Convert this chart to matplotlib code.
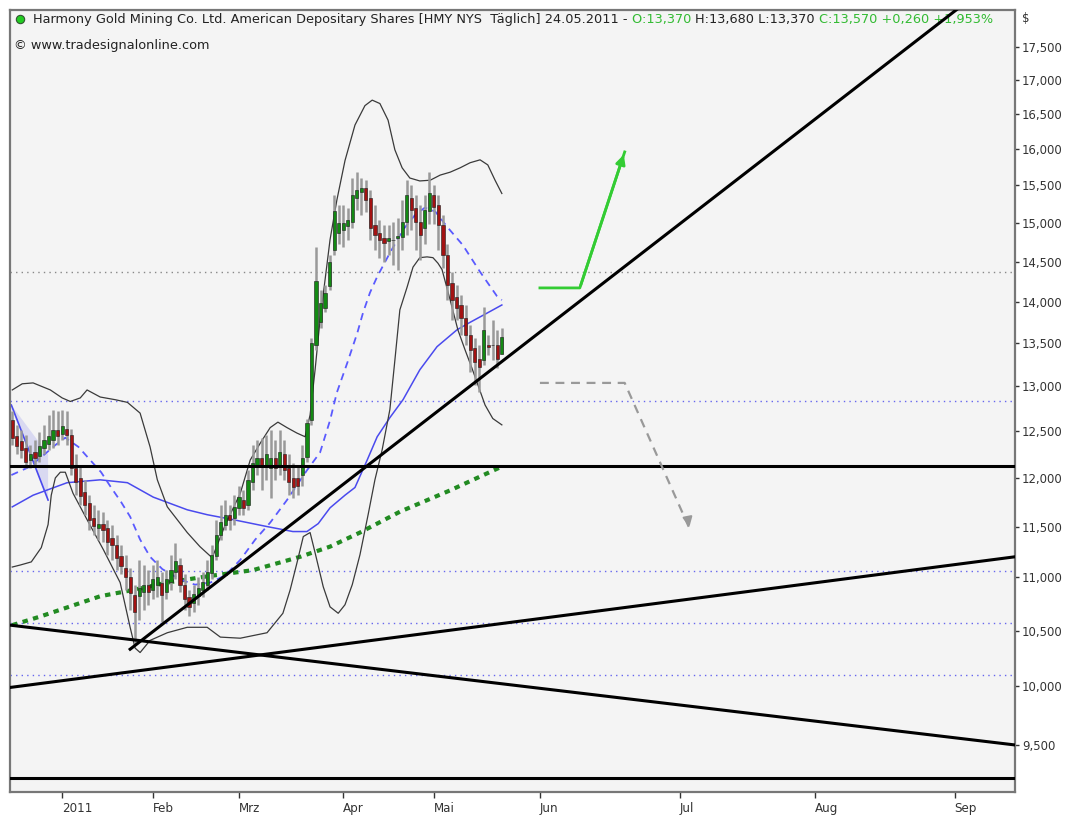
import matplotlib
matplotlib.use('Agg')
import matplotlib.pyplot as plt
from matplotlib.ticker import FixedLocator, NullLocator, FuncFormatter
import numpy as np

# HMY NYS daily bars, 16.12.2010 .. 24.05.2011 (x = trading day index, 11 = 03.01.2011)
opens = [12.62, 12.45, 12.39, 12.32, 12.19, 12.28, 12.23, 12.32, 12.36, 12.41,
         12.51, 12.47, 12.53, 12.46, 12.10, 12.00, 11.85, 11.74, 11.59, 11.49,
         11.53, 11.49, 11.39, 11.32, 11.21, 11.09, 11.00, 10.83, 10.82, 10.86,
         10.93, 10.88, 10.93, 10.95, 10.86, 10.96, 11.05, 11.12, 10.93, 10.81,
         10.76, 10.82, 10.88, 10.93, 11.04, 11.21, 11.42, 11.52, 11.62, 11.59,
         11.69, 11.77, 11.72, 11.96, 12.14, 12.21, 12.12, 12.10, 12.21, 12.14,
         12.25, 12.10, 12.00, 12.00, 12.03, 12.22, 12.62, 13.48, 13.75, 13.92,
         14.19, 14.65, 14.87, 14.91, 14.96, 15.01, 15.33, 15.41, 15.47, 15.33,
         14.97, 14.87, 14.80, 14.76, 14.78, 14.80, 14.82, 15.01, 15.33, 15.20,
         15.01, 14.93, 15.15, 15.37, 15.23, 14.97, 14.59, 14.23, 14.06, 13.96,
         13.80, 13.60, 13.44, 13.32, 13.30, 13.48, 13.48, 13.48, 13.37]
highs = [12.72, 12.57, 12.51, 12.46, 12.35, 12.41, 12.49, 12.57, 12.68, 12.74,
         12.72, 12.74, 12.72, 12.53, 12.25, 12.14, 11.98, 11.82, 11.72, 11.67,
         11.65, 11.57, 11.52, 11.42, 11.32, 11.22, 11.09, 10.93, 11.17, 11.12,
         11.07, 11.12, 11.17, 11.05, 11.07, 11.22, 11.34, 11.19, 11.03, 10.88,
         10.93, 11.00, 11.05, 11.17, 11.32, 11.57, 11.72, 11.77, 11.72, 11.82,
         11.92, 11.87, 12.08, 12.35, 12.41, 12.43, 12.46, 12.51, 12.41, 12.51,
         12.41, 12.25, 12.16, 12.14, 12.35, 12.64, 13.56, 14.68, 14.15, 14.21,
         14.59, 15.37, 15.23, 15.23, 15.20, 15.60, 15.68, 15.60, 15.57, 15.44,
         15.23, 15.04, 14.97, 14.97, 15.01, 15.07, 15.30, 15.57, 15.50, 15.37,
         15.23, 15.37, 15.68, 15.50, 15.37, 15.10, 14.72, 14.37, 14.21, 14.08,
         13.96, 13.72, 13.56, 13.48, 13.94, 13.60, 13.78, 13.66, 13.68]
lows = [12.35, 12.25, 12.21, 12.10, 12.10, 12.14, 12.17, 12.25, 12.30, 12.32,
        12.35, 12.41, 12.35, 12.03, 11.82, 11.72, 11.62, 11.47, 11.42, 11.37,
        11.35, 11.22, 11.17, 11.07, 11.03, 10.88, 10.69, 10.37, 10.60, 10.69,
        10.74, 10.79, 10.81, 10.58, 10.79, 10.88, 10.98, 10.86, 10.69, 10.63,
        10.67, 10.74, 10.81, 10.88, 10.98, 11.17, 11.37, 11.47, 11.47, 11.52,
        11.62, 11.62, 11.67, 11.87, 12.03, 11.87, 11.98, 11.79, 11.98, 12.03,
        11.98, 11.82, 11.79, 11.82, 11.92, 12.17, 12.57, 13.42, 13.68, 13.87,
        14.15, 14.59, 14.72, 14.68, 14.78, 14.93, 15.17, 15.10, 15.14, 14.78,
        14.65, 14.55, 14.50, 14.59, 14.46, 14.40, 14.65, 14.84, 14.91, 14.65,
        14.52, 14.72, 14.99, 14.99, 14.65, 14.42, 14.02, 13.78, 13.78, 13.60,
        13.48, 13.17, 13.02, 12.94, 13.25, 13.36, 13.30, 13.21, 13.37]
closes = [12.43, 12.34, 12.30, 12.17, 12.25, 12.21, 12.34, 12.41, 12.45, 12.51,
          12.45, 12.56, 12.46, 12.10, 11.96, 11.81, 11.72, 11.57, 11.51, 11.53,
          11.47, 11.35, 11.32, 11.19, 11.11, 11.00, 10.85, 10.67, 10.90, 10.93,
          10.86, 10.98, 11.00, 10.83, 10.98, 11.07, 11.16, 10.93, 10.79, 10.72,
          10.84, 10.90, 10.96, 11.05, 11.22, 11.42, 11.55, 11.62, 11.57, 11.70,
          11.80, 11.69, 11.98, 12.16, 12.21, 12.12, 12.25, 12.21, 12.10, 12.28,
          12.08, 11.96, 11.90, 11.92, 12.21, 12.59, 13.50, 14.25, 13.99, 14.11,
          14.50, 15.15, 15.00, 15.00, 15.04, 15.37, 15.44, 15.47, 15.30, 14.93,
          14.84, 14.78, 14.74, 14.80, 14.78, 14.83, 15.01, 15.37, 15.17, 15.01,
          14.84, 15.17, 15.40, 15.21, 14.97, 14.59, 14.21, 14.02, 13.92, 13.80,
          13.60, 13.42, 13.28, 13.22, 13.66, 13.46, 13.48, 13.31, 13.57]

# bollinger bands
bb_up_x = [0, 2.2, 4.6, 8.4, 11.0, 12.8, 15.0, 16.5, 19.4, 22.7, 25.4, 28.2, 30.4, 32.0, 34.2,
           38.6, 41.4, 44.1, 47.0, 50.3, 52.5, 54.7, 56.9, 58.6, 60.6, 62.8, 64.6, 65.7, 66.8,
           67.9, 69.0, 70.1, 71.6, 73.4, 75.6, 77.8, 79.4, 81.1, 82.9, 84.4, 86.0, 87.7, 89.9,
           92.2, 94.4, 96.6, 98.8, 101.0, 103.2, 104.9, 106.5, 108.0]
bb_up_y = [12.96, 13.03, 13.04, 12.96, 12.87, 12.83, 12.87, 12.96, 12.88, 12.85, 12.82, 12.70,
           12.33, 11.98, 11.70, 11.44, 11.30, 11.19, 11.52, 11.84, 12.19, 12.37, 12.54, 12.60,
           12.54, 12.48, 12.44, 12.68, 13.19, 13.78, 14.27, 14.78, 15.30, 15.84, 16.34, 16.62,
           16.70, 16.65, 16.41, 15.99, 15.74, 15.60, 15.56, 15.57, 15.64, 15.68, 15.74, 15.81,
           15.85, 15.78, 15.57, 15.39]
bb_lo_x = [0, 1.8, 4.2, 6.4, 7.9, 8.6, 9.5, 10.6, 11.7, 13.4, 16.5, 20.1, 23.8, 26.0, 27.1,
           28.2, 30.4, 34.2, 38.6, 43.0, 45.9, 50.3, 56.2, 59.7, 61.3, 62.8, 64.2, 65.7, 66.8,
           68.6, 70.1, 71.9, 73.4, 75.0, 76.7, 78.5, 80.0, 81.6, 83.3, 84.4, 85.5, 87.1, 88.4,
           89.9, 91.5, 92.8, 93.9, 94.8, 96.6, 98.3, 99.9, 101.4, 102.7, 104.3, 106.0, 108.0]
bb_lo_y = [11.10, 11.12, 11.15, 11.29, 11.52, 11.82, 12.00, 12.06, 12.06, 11.84, 11.57, 11.27,
           10.95, 10.53, 10.34, 10.30, 10.41, 10.48, 10.53, 10.53, 10.44, 10.43, 10.48, 10.66,
           10.88, 11.14, 11.40, 11.44, 11.24, 10.91, 10.72, 10.66, 10.74, 10.93, 11.22, 11.62,
           11.98, 12.30, 12.74, 13.30, 13.90, 14.18, 14.43, 14.55, 14.56, 14.55, 14.48, 14.40,
           14.02, 13.66, 13.42, 13.21, 13.02, 12.79, 12.64, 12.57]

# cycle line (blue dashed)
cyc_x = [-0.2, 3.5, 6.4, 9.5, 11.7, 14.6, 16.8, 19.6, 21.8, 24.0, 26.0, 28.2, 30.4, 33.1, 37.0,
         40.3, 43.7, 47.0, 50.3, 53.6, 56.9, 60.6, 65.0, 67.9, 70.1, 71.6, 73.9, 76.1, 77.4,
         78.9, 80.5, 83.3, 86.2, 88.8, 91.0, 93.3, 95.9, 99.4, 103.2, 106.9, 108.0]
cyc_y = [12.03, 12.11, 12.22, 12.35, 12.43, 12.33, 12.21, 12.06, 11.90, 11.75, 11.60, 11.37,
         11.20, 11.08, 10.98, 10.93, 10.95, 11.02, 11.17, 11.37, 11.54, 11.77, 12.08, 12.27,
         12.62, 12.93, 13.27, 13.62, 13.87, 14.11, 14.31, 14.61, 14.91, 15.10, 15.20, 15.15,
         14.95, 14.71, 14.37, 14.07, 14.02]

# moving averages
ma_x = [0, 4.6, 12.1, 19.4, 25.4, 31.1, 38.6, 43.0, 48.7, 56.2, 61.9, 65.0, 67.5, 70.1, 73.4,
        75.6, 78.3, 80.5, 83.3, 86.2, 89.9, 93.7, 98.1, 101.0, 104.7, 108.0]
ma_y = [11.70, 11.82, 11.95, 11.98, 11.95, 11.80, 11.67, 11.62, 11.57, 11.50, 11.45, 11.45,
        11.53, 11.69, 11.82, 11.90, 12.19, 12.44, 12.65, 12.85, 13.19, 13.46, 13.66, 13.75,
        13.86, 13.96]
ma200_x = [0, 6.2, 19.4, 26.7, 34.2, 43.0, 53.1, 63.5, 70.1, 76.7, 85.5, 96.6, 108.0]
ma200_y = [10.55, 10.63, 10.82, 10.88, 10.95, 11.01, 11.07, 11.20, 11.30, 11.44, 11.65, 11.87, 12.12]

# regression channel at the start
reg_x = [-0.2, 7.9, 7.9]
reg_y = [12.79, 11.77, 12.25]

# trend lines (two anchor points each)
trend_up = ([26, 215], [10.33, 18.45])
trend_long = ([-0.5, 221.2], [9.99, 11.20])
trend_down = ([-0.5, 221.2], [10.55, 9.50])
support_levels = [12.13, 9.23]
dotted_gray = [14.37]
dotted_blue = [12.83, 11.06, 10.57, 10.10]

# scenario arrows
bull_x = [116.4, 125.2, 135.1]
bull_y = [14.17, 14.17, 15.96]
bear_x = [116.4, 135.1, 149.5]
bear_y = [13.04, 13.04, 11.47]

month_pos = [11, 31, 50, 73, 93, 116.4, 147.3, 177.0, 207.9]
month_lbl = ['2011', 'Feb', 'Mrz', 'Apr', 'Mai', 'Jun', 'Jul', 'Aug', 'Sep']
y_ticks = [9.5, 10, 10.5, 11, 11.5, 12, 12.5, 13, 13.5, 14, 14.5, 15, 15.5, 16, 16.5, 17, 17.5]

W, H = 1074, 818
fig = plt.figure(figsize=(W / 100, H / 100), dpi=100)
fig.patch.set_facecolor('white')
ax = fig.add_axes([10 / W, 26 / H, 1005 / W, 782 / H])
ax.set_facecolor('#f4f4f4')
ax.set_yscale('log')
ax.set_xlim(-0.5, 221.2)
ax.set_ylim(9.117, 18.07)

# levels
for lv in dotted_gray:
    ax.axhline(lv, color='#888888', lw=1, ls=(0, (1, 3)))
for lv in dotted_blue:
    ax.axhline(lv, color='#6666ee', lw=1, ls=(0, (1, 3)))

# regression channel
ax.fill(reg_x, reg_y, color='#c8c8f0', alpha=0.6, lw=0)
ax.plot(reg_x[:2], reg_y[:2], color='#4a4aee', lw=1.2)

ax.plot(ma200_x, ma200_y, color='#228b22', lw=3, ls=(0, (1.3, 1.3)))
ax.plot(ma_x, ma_y, color='#4a4aee', lw=1.1)
ax.plot(cyc_x, cyc_y, color='#5a5aff', lw=1.3, ls=(0, (4, 3)))
ax.plot(bb_up_x, bb_up_y, color='#3a3a3a', lw=0.9)
ax.plot(bb_lo_x, bb_lo_y, color='#3a3a3a', lw=0.9)

# candles
x = np.arange(len(closes))
o = np.array(opens)
c = np.array(closes)
ax.vlines(x, lows, highs, color='#999999', lw=1.8, zorder=3)
up = c >= o
body_lo = np.minimum(o, c)
body_h = np.abs(c - o)
ax.bar(x[up], body_h[up], bottom=body_lo[up], width=0.7, color='#138a13',
       edgecolor='#1a1a1a', lw=0.4, zorder=4)
ax.bar(x[~up], body_h[~up], bottom=body_lo[~up], width=0.7, color='#a31212',
       edgecolor='#1a1a1a', lw=0.4, zorder=4)

# lines drawn by hand
for tx, ty in (trend_up, trend_long, trend_down):
    ax.plot(tx, ty, color='black', lw=2.2, zorder=5)
for lv in support_levels:
    ax.axhline(lv, color='black', lw=2.2, zorder=5)

ax.plot(bull_x, bull_y, color='#33cc33', lw=2, zorder=6)
ax.annotate('', xy=(bull_x[-1], bull_y[-1]), xytext=(bull_x[-2], bull_y[-2]),
            arrowprops=dict(arrowstyle='-|>', color='#33cc33', lw=2, mutation_scale=14), zorder=6)
ax.plot(bear_x, bear_y, color='#999999', lw=1.6, ls=(0, (4, 3)), zorder=6)
ax.annotate('', xy=(bear_x[-1], bear_y[-1]),
            xytext=(bear_x[-1] - 0.6, bear_y[-1] * 1.012),
            arrowprops=dict(arrowstyle='-|>', color='#999999', lw=1.5, mutation_scale=14), zorder=6)

# axes
ax.yaxis.tick_right()
ax.yaxis.set_major_locator(FixedLocator(y_ticks))
ax.yaxis.set_minor_locator(NullLocator())
ax.yaxis.set_major_formatter(FuncFormatter(lambda v, p: f'{v:.3f}'.replace('.', ',')))
ax.tick_params(axis='y', direction='out', length=3, width=1, pad=2, labelsize=8.4,
               colors='#333333')
ax.set_xticks(month_pos)
ax.set_xticklabels(month_lbl, ha='left')
ax.tick_params(axis='x', direction='out', length=4, width=1, pad=3, labelsize=8.6,
               colors='#333333')
for sp in ax.spines.values():
    sp.set_color('#777777')
    sp.set_linewidth(1.6)

fig.text(1022 / W, 1 - 18 / H, '$', fontsize=8.4, color='#333333', va='center')

# header
dark, green = '#222222', '#33bb33'
parts = [('Harmony Gold Mining Co. Ltd. American Depositary Shares [HMY NYS  Täglich] 24.05.2011 - ', dark),
         ('O:13,370 ', green), ('H:13,680 L:13,370 ', dark), ('C:13,570 +0,260 +1,953%', green)]
t = fig.text(33 / W, 1 - 19 / H, parts[0][0], fontsize=9.3, color=parts[0][1], va='center')
for s, col in parts[1:]:
    t = ax.annotate(s, xy=(1, 0), xycoords=t, va='bottom', ha='left', fontsize=9.3,
                    color=col, annotation_clip=False)
ax.plot([10 / 1005], [1 - 9 / 782], 'o', transform=ax.transAxes,
        ms=6, mfc='#22cc22', mec='#335533', mew=0.8, clip_on=False)
fig.text(14 / W, 1 - 45 / H, '© www.tradesignalonline.com', fontsize=9.3, color=dark, va='center')

fig.savefig('out.png', dpi=100)
